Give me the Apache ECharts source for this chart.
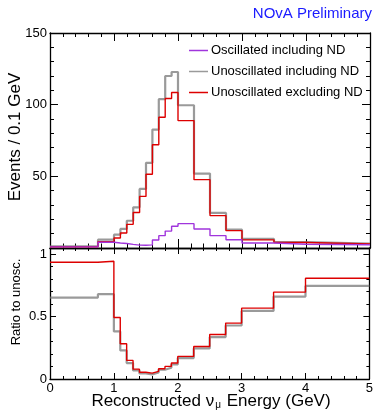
<!DOCTYPE html>
<html>
<head>
<meta charset="utf-8">
<script src="https://cdn.jsdelivr.net/npm/echarts@6/dist/echarts.min.js"></script>
<style>
html,body{margin:0;padding:0;background:#fff;}
#c{width:376px;height:411px;}
</style>
</head>
<body>
<div id="c"></div>
<script>
// Bin edges (GeV)
const binEdges = [0, 0.75, 1.0, 1.1, 1.2, 1.3, 1.4, 1.5, 1.6, 1.7, 1.8, 1.9, 2.0, 2.25, 2.5, 2.75, 3.0, 3.5, 4.0, 5.0];
// Events / 0.1 GeV
const oscInclND   = [0.8, 4.0, 3.5, 3.1, 2.5, 2.0, 1.9, 2.2, 5.6, 8.6, 11.8, 15.2, 17.0, 13.3, 8.6, 5.8, 3.5, 2.6, 2.3];
const unoscInclND = [1.2, 5.8, 9.3, 13.3, 19.0, 28.4, 41.2, 59.4, 82.6, 103.8, 120.0, 122.8, 99.6, 51.9, 24.5, 12.8, 6.3, 4.2, 3.0];
const unoscExclND = [0.85, 4.4, 7.0, 10.5, 16.5, 24.8, 36.0, 51.5, 72.0, 91.2, 104.3, 108.5, 88.9, 47.7, 22.6, 12.1, 5.7, 3.8, 2.8];
// Ratio to unoscillated
const ratioInclND = [0.653, 0.68, 0.381, 0.229, 0.128, 0.069, 0.045, 0.037, 0.053, 0.074, 0.090, 0.117, 0.168, 0.245, 0.336, 0.429, 0.546, 0.661, 0.746];
const ratioExclND = [0.936, 0.944, 0.493, 0.283, 0.149, 0.079, 0.054, 0.047, 0.061, 0.082, 0.101, 0.128, 0.181, 0.261, 0.357, 0.448, 0.568, 0.696, 0.808];
// Tick labels
const topYTicks = [50, 100, 150];
const botYTicks = [0, 0.5, 1];
const xTicks = [0, 1, 2, 3, 4, 5];

const names = ['Oscillated including ND', 'Unoscillated including ND', 'Unoscillated excluding ND'];
const colors = {osc: '#a035dc', incl: 'rgba(120,120,120,0.75)', excl: '#dd0000'};
const FONT = '"Liberation Sans", Arial, Helvetica, sans-serif';

function steps(vals) {
  const pts = [];
  vals.forEach((v, i) => { pts.push([binEdges[i], v]); pts.push([binEdges[i + 1], v]); });
  return pts;
}

const chart = echarts.init(document.getElementById('c'), null, {renderer: 'canvas'});

const axLine = {show: true, onZero: false, lineStyle: {color: '#000', width: 1.3}};
function xAx(grid, pos, labels, tickLen) {
  return {
    type: 'value', gridIndex: grid, position: pos, min: 0, max: 5, interval: 1,
    axisLine: axLine,
    axisTick: {show: true, inside: true, length: tickLen, lineStyle: {color: '#000', width: 1}},
    minorTick: {show: true, splitNumber: 5, length: tickLen / 2, lineStyle: {color: '#000', width: 1}},
    splitLine: {show: false},
    axisLabel: labels ? {show: true, fontSize: 13, color: '#000', fontFamily: FONT, margin: 3,
      formatter: v => (xTicks.indexOf(v) >= 0 ? String(v) : '')} : {show: false}
  };
}
function yAx(grid, pos, min, max, interval, labels, tickLen, tickList) {
  return {
    type: 'value', gridIndex: grid, position: pos, min: min, max: max, interval: interval,
    axisLine: axLine,
    axisTick: {show: true, inside: true, length: tickLen, lineStyle: {color: '#000', width: 1}},
    minorTick: {show: true, splitNumber: 5, length: tickLen / 2, lineStyle: {color: '#000', width: 1}},
    splitLine: {show: false},
    axisLabel: labels ? {show: true, fontSize: 13, color: '#000', fontFamily: FONT, margin: 3,
      formatter: v => (tickList.some(t => Math.abs(t - v) < 1e-9) ? String(v) : '')} : {show: false}
  };
}

const lineSeries = (name, vals, color, width, xi, yi, z) => ({
  name: name, type: 'line', data: steps(vals), xAxisIndex: xi, yAxisIndex: yi,
  showSymbol: false, symbol: 'none', z: z,
  lineStyle: {color: color, width: width}, itemStyle: {color: color}, animation: false
});

chart.setOption({
  animation: false,
  backgroundColor: '#fff',
  textStyle: {fontFamily: FONT},
  grid: [
    {left: 50, right: 6, top: 33, height: 215},
    {left: 50, right: 6, top: 248, height: 131}
  ],
  xAxis: [
    xAx(0, 'bottom', false, 9),
    xAx(0, 'top', false, 8),
    xAx(1, 'bottom', true, 6),
    xAx(1, 'top', false, 6)
  ],
  yAxis: [
    yAx(0, 'left', 0, 150, 50, true, 8, topYTicks),
    yAx(0, 'right', 0, 150, 50, false, 8, topYTicks),
    yAx(1, 'left', 0, 1.05, 0.5, true, 6, botYTicks),
    yAx(1, 'right', 0, 1.05, 0.5, false, 6, botYTicks)
  ],
  legend: {
    data: names, orient: 'vertical', left: 184, top: 39, itemGap: 8,
    icon: 'rect', itemWidth: 19, itemHeight: 1.5,
    textStyle: {fontSize: 13, color: '#000', fontFamily: FONT, padding: [0, 0, 0, -2]}
  },
  series: [
    lineSeries(names[1], unoscInclND, colors.incl, 2.2, 0, 0, 2),
    lineSeries(names[2], unoscExclND, colors.excl, 1.4, 0, 0, 3),
    lineSeries(names[0], oscInclND, colors.osc, 1.4, 0, 0, 4),
    lineSeries('ratioIncl', ratioInclND, colors.incl, 2.2, 2, 2, 2),
    lineSeries('ratioExcl', ratioExclND, colors.excl, 1.4, 2, 2, 3)
  ],
  graphic: [
    {type: 'text', right: 4, top: 6, style: {text: 'NOvA Preliminary', fill: '#1a1aff', fontSize: 15, fontFamily: FONT}},
    {type: 'text', x: 15, y: 137, rotation: Math.PI / 2,
      style: {text: 'Events / 0.1 GeV', fill: '#000', fontSize: 17, fontFamily: FONT, align: 'center', verticalAlign: 'middle'}},
    {type: 'text', x: 16, y: 302, rotation: Math.PI / 2,
      style: {text: 'Ratio to unosc.', fill: '#000', fontSize: 13, fontFamily: FONT, align: 'center', verticalAlign: 'middle'}},
    {type: 'text', x: 211, y: 401,
      style: {text: 'Reconstructed ν{sub|μ} Energy (GeV)', fill: '#000', fontSize: 17, fontFamily: FONT,
        align: 'center', verticalAlign: 'middle',
        rich: {sub: {fontSize: 10, fontFamily: FONT, fill: '#000', padding: [9, 1, 0, 1]}}}}
  ]
});
</script>
</body>
</html>
